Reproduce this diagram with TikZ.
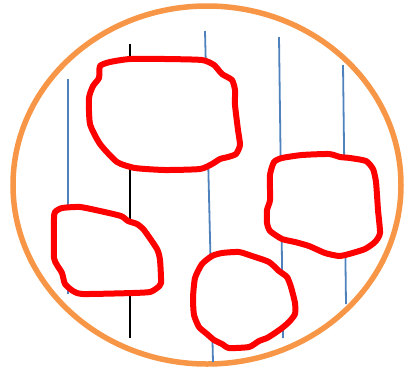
\documentclass[tikz,border=0pt]{standalone}
\usepackage{tikz}
\definecolor{cellorange}{RGB}{247,150,70}
\definecolor{fiberblue}{RGB}{79,129,189}
\definecolor{patchred}{RGB}{255,0,0}

\begin{document}
\begin{tikzpicture}[
  x=1pt,y=-1pt,
  outline/.style={draw=cellorange,line width=5.5pt},
  fiber/.style={draw=fiberblue,line width=1.8pt},
  axisline/.style={draw=black,line width=1.8pt},
  patch/.style={draw=patchred,fill=white,line width=6pt,line join=round}
]
\useasboundingbox (0,0) rectangle (404,373);
\draw[outline] (207,185) ellipse [x radius=194, y radius=179];

\draw[fiber] (68,79) -- (68,294);
\draw[axisline] (130,44) -- (130,338);
\draw[fiber] (205,31) -- (213,362);
\draw[fiber] (279,37) -- (283,338);
\draw[fiber] (343,65) -- (346,304);

\draw[patch] plot[smooth cycle,tension=0.35] coordinates {
  (100,66) (110,62) (130,59) (165,59) (202,60) (214,65) (222,74) (232,80)
  (235,90) (235,105) (238,130) (240,145) (236,154) (228,157) (220,159)
  (212,164) (200,169) (165,170) (135,168) (117,162) (100,144) (90,124)
  (89,98) (93,86) (99,78)};
\draw[patch] plot[smooth cycle,tension=0.35] coordinates {
  (274,162) (282,158) (302,155) (329,154) (340,157) (350,158) (366,161)
  (373,169) (376,182) (378,210) (380,233) (375,242) (365,249) (349,254)
  (339,256) (325,253) (309,246) (295,242) (282,239) (270,231) (267,223)
  (267,210) (270,200) (270,175)};
\draw[patch] plot[smooth cycle,tension=0.35] coordinates {
  (55,212) (62,208) (80,207) (100,211) (121,216) (128,221) (137,224)
  (144,230) (157,249) (160,260) (161,283) (157,288) (150,292) (133,293)
  (83,294) (73,291) (65,284) (62,273) (57,265) (54,258) (54,236) (54,218)};
\draw[patch] plot[smooth cycle,tension=0.35] coordinates {
  (202,264) (212,256) (222,253) (239,252) (252,256) (269,262) (279,271)
  (287,277) (291,287) (295,303) (295,314) (289,322) (282,328) (275,333)
  (267,338) (259,341) (249,347) (229,348) (222,344) (214,340) (207,334)
  (199,327) (194,315) (193,298) (195,278)};
\end{tikzpicture}
\end{document}
